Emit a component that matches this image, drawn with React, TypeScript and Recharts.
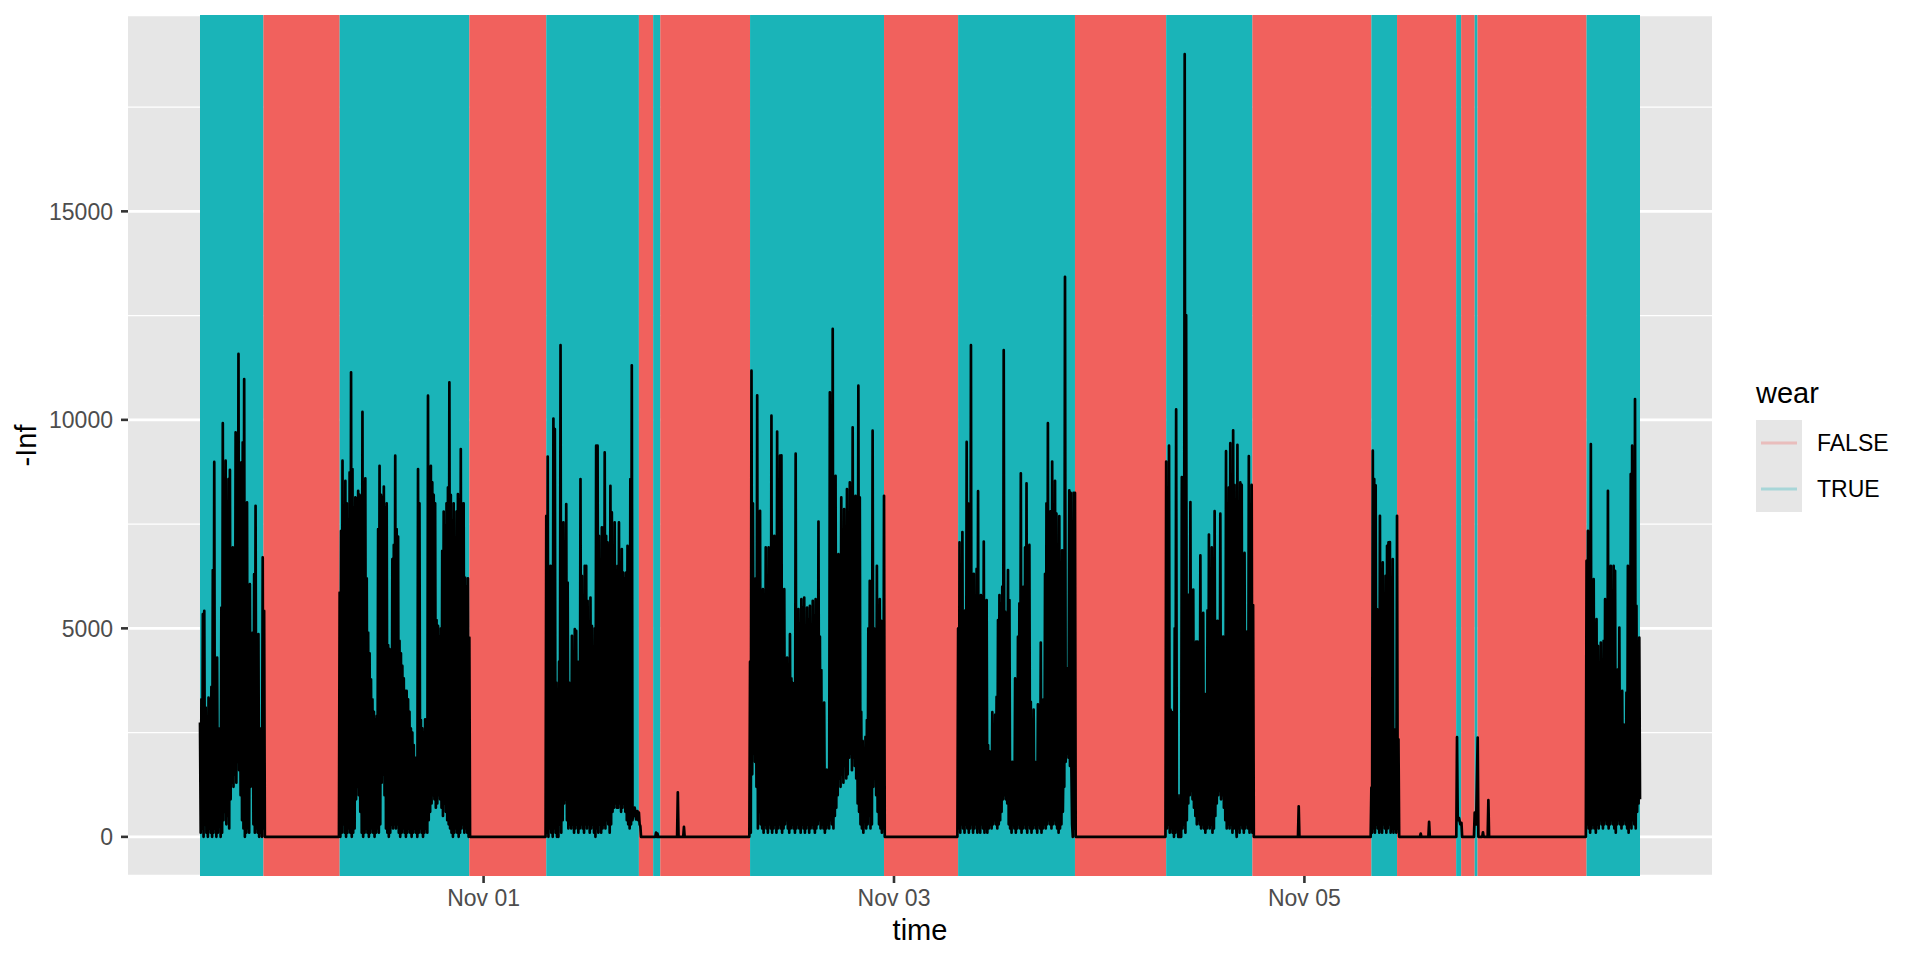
import React from 'react';
import { LineChart, Line, XAxis, YAxis, CartesianGrid, ReferenceArea, Label } from 'recharts';

// ---- wear periods (boundaries and state of each interval) ----
const wearBreaks = [
  '2020-10-30T14:50', '2020-10-30T22:15', '2020-10-31T07:10', '2020-10-31T22:20',
  '2020-11-01T07:20', '2020-11-01T18:10', '2020-11-01T19:50', '2020-11-01T20:40',
  '2020-11-02T07:10', '2020-11-02T22:50', '2020-11-03T07:30', '2020-11-03T21:10',
  '2020-11-04T07:50', '2020-11-04T17:55', '2020-11-05T07:50', '2020-11-05T10:50',
  '2020-11-05T17:45', '2020-11-05T18:20', '2020-11-05T19:55', '2020-11-05T20:15',
  '2020-11-06T09:00', '2020-11-06T15:15',
];
const wearFlags = [
  true, false, true, false, true, false, true, false, true, false, true,
  false, true, false, true, false, true, false, true, false, true,
];

// ---- activity series: 10-minute peaks, each followed by the trough 5 minutes later ----
const block1Start = '2020-10-30T14:50';
const block1Peaks = [2740, 3300, 5340, 5420, 3100, 2800, 3340, 3300, 3600, 6400, 8990, 4260, 4300, 2600, 1800, 5500, 9920, 5540, 9020, 6000, 8580, 8800, 5800, 6940, 6000, 9700, 6200, 11580, 6000, 8980, 9460, 10980, 6000, 8020, 5200, 6060, 4800, 4900, 6300, 7940, 4500, 4860, 2600, 2540, 6700, 5420];
const block1Troughs = [100, 200, 0, 300, 100, 0, 200, 100, 0, 100, 200, 0, 100, 300, 0, 100, 400, 600, 300, 500, 200, 900, 1300, 1200, 1500, 1300, 1800, 1600, 1000, 400, 200, 0, 100, 200, 100, 1200, 1400, 300, 100, 200, 100, 0, 100, 0, 200, 0];

const block2Start = '2020-10-31T07:10';
const block2Peaks = [5860, 7340, 9020, 7580, 8540, 8000, 7600, 8740, 11140, 8820, 7900, 8140, 8100, 8300, 8200, 7400, 10190, 8500, 8600, 6200, 4900, 4400, 3780, 3300, 3000, 2800, 2900, 7380, 8900, 8200, 8140, 8400, 7900, 8000, 4600, 4500, 4300, 6660, 7000, 9140, 7380, 7200, 4700, 4400, 4100, 3800, 3500, 3500, 3300, 3000, 2600, 2500, 2200, 1900, 1700, 8820, 8000, 2800, 2600, 2500, 2820, 2600, 10580, 8860, 8900, 8500, 8200, 8000, 5200, 5060, 4800, 5000, 6860, 7800, 7460, 8000, 8380, 10900, 8200, 7580, 8000, 6420, 7800, 8220, 8100, 9300, 8000, 8000, 6220, 6000, 6200, 4780];
const block2Troughs = [0, 100, 300, 100, 0, 100, 200, 100, 0, 100, 200, 900, 1200, 1000, 600, 100, 0, 100, 200, 100, 0, 100, 200, 100, 0, 100, 200, 100, 300, 1300, 1500, 1000, 200, 100, 0, 100, 300, 200, 300, 200, 300, 100, 0, 100, 200, 100, 0, 100, 200, 100, 0, 100, 200, 100, 0, 100, 200, 100, 0, 100, 200, 100, 400, 600, 800, 1000, 900, 700, 800, 1000, 900, 700, 500, 800, 600, 400, 300, 200, 100, 0, 100, 200, 100, 0, 100, 200, 300, 100, 200, 100, 0, 0];

const block3Start = '2020-11-01T07:20';
const block3Peaks = [7700, 9120, 4500, 6500, 4000, 10030, 9780, 3700, 3000, 4200, 11790, 4400, 7540, 6260, 7980, 6100, 3700, 3500, 4820, 3900, 4980, 4940, 4200, 3780, 8580, 6260, 4500, 6500, 6500, 5660, 4800, 5740, 5060, 4500, 5000, 9380, 9380, 7220, 6000, 7420, 7420, 9220, 7220, 7060, 6200, 8420, 7780, 6400, 7540, 6340, 6500, 7540, 6200, 6900, 6340, 6200, 6340, 6980, 6400, 8580, 11310, 580, 700, 420, 620, 580, 260];
const block3Troughs = [100, 0, 200, 100, 0, 200, 100, 0, 0, 300, 100, 400, 800, 900, 400, 200, 300, 200, 300, 100, 200, 300, 100, 200, 300, 200, 100, 300, 200, 300, 100, 200, 300, 100, 0, 200, 100, 300, 100, 200, 300, 200, 400, 300, 100, 300, 600, 700, 800, 700, 700, 800, 600, 700, 800, 600, 400, 300, 200, 300, 400, 500, 600, 500, 400, 300, 0];

const block4Start = '2020-11-02T07:10';
const block4Peaks = [4200, 11180, 8000, 5400, 6200, 10590, 5200, 7820, 5600, 5940, 4800, 6940, 5100, 6940, 5000, 10100, 5600, 7220, 5400, 9720, 6000, 9140, 9150, 5200, 5940, 3800, 4300, 3200, 4860, 3800, 3690, 2600, 9190, 5300, 5460, 5100, 5700, 5500, 5740, 4900, 5500, 5200, 5540, 4700, 5660, 5300, 5700, 4400, 7560, 4800, 4000, 3100, 3220, 1400, 1610, 1500, 10660, 6000, 12180, 8000, 8660, 5500, 6780, 5800, 8140, 5500, 7860, 6000, 8340, 5600, 8500, 6500, 9820, 6000, 8180, 5000, 10820, 8140, 3000, 2300, 2000, 2400, 2800, 5000, 6140, 5000, 9740, 5000, 4530, 6500, 5400, 5700, 5180, 5000, 8180];
const block4Troughs = [100, 1500, 2000, 1800, 1200, 200, 600, 300, 200, 100, 300, 200, 100, 300, 200, 100, 200, 300, 100, 200, 300, 200, 100, 200, 300, 400, 200, 100, 200, 300, 200, 100, 200, 300, 200, 100, 300, 200, 100, 200, 300, 100, 200, 300, 200, 100, 200, 300, 400, 200, 300, 200, 100, 200, 300, 200, 400, 300, 200, 500, 700, 1000, 1400, 1200, 1500, 1300, 1700, 1400, 1500, 1900, 2000, 1600, 1900, 1700, 1400, 800, 600, 300, 200, 100, 400, 200, 300, 500, 200, 300, 1200, 1400, 1000, 600, 300, 200, 100, 200, 0];

const block5Start = '2020-11-03T07:30';
const block5Peaks = [5000, 7060, 4800, 7310, 5000, 5430, 9470, 8000, 4500, 11790, 5200, 6310, 5000, 6430, 8290, 5000, 5800, 4800, 7080, 4000, 5680, 2200, 2050, 1800, 2990, 2200, 2930, 3360, 5200, 5800, 5600, 6000, 11670, 5400, 5200, 6400, 5680, 1800, 1800, 1600, 3800, 1800, 4800, 5600, 8720, 5800, 6000, 6940, 8480, 5400, 7000, 3240, 1800, 3050, 1800, 1700, 3180, 2000, 4660, 1700, 3300, 6310, 8000, 9920, 5000, 7810, 9000, 5000, 8540, 7750, 4500, 7690, 2430, 6870, 2050, 13430, 4050, 3680, 8310, 8250, 300, 8250, 8250];
const block5Troughs = [200, 100, 300, 200, 100, 300, 200, 100, 200, 300, 100, 200, 300, 100, 200, 100, 300, 200, 100, 200, 100, 200, 300, 200, 300, 400, 300, 200, 300, 400, 600, 900, 1000, 900, 800, 300, 200, 100, 300, 200, 100, 200, 300, 200, 100, 200, 300, 200, 100, 300, 200, 100, 200, 300, 200, 100, 300, 200, 100, 200, 300, 200, 300, 400, 300, 200, 300, 400, 300, 200, 100, 200, 300, 600, 1200, 1800, 2000, 1900, 1700, 1600, 0, 200, 0];

const block6Start = '2020-11-04T07:50';
const block6Peaks = [9000, 3000, 9380, 3050, 2990, 1500, 5000, 10250, 1000, 200, 1000, 8630, 6000, 18770, 12510, 4000, 5810, 8030, 4200, 5930, 3800, 4680, 4680, 3500, 6750, 3600, 5370, 3430, 3000, 5430, 7250, 3800, 6940, 3500, 7810, 3900, 5180, 3600, 7750, 4000, 4800, 4400, 9250, 4500, 8380, 9440, 4600, 9750, 8440, 300, 9400, 4200, 8500, 8440, 3800, 6810, 3550, 4930, 9130, 5310, 8440, 5560];
const block6Troughs = [200, 300, 100, 200, 100, 0, 100, 200, 0, 0, 0, 200, 300, 100, 400, 800, 1000, 1100, 900, 700, 500, 300, 400, 300, 200, 300, 200, 100, 200, 300, 200, 300, 100, 200, 500, 800, 1000, 1100, 900, 1000, 700, 400, 200, 300, 200, 300, 100, 200, 300, 0, 200, 100, 300, 200, 100, 200, 300, 200, 100, 200, 100, 0];

const block7Start = '2020-11-05T07:50';
const block7Peaks = [1180, 9260, 8580, 8430, 5460, 5000, 7700, 2980, 6580, 3000, 6260, 6980, 7060, 7070, 2980, 6660, 2000, 2580, 7700, 2340];
const block7Troughs = [100, 200, 100, 300, 200, 100, 200, 100, 300, 200, 100, 200, 300, 100, 200, 100, 200, 100, 200, 0];

const block8Start = '2020-11-06T09:00';
const block8Peaks = [6620, 7340, 3500, 9420, 3000, 6180, 3200, 5220, 4580, 2800, 4660, 3000, 4700, 5700, 2600, 8300, 3200, 6500, 2800, 6500, 6380, 3000, 4020, 5020, 2700, 3500, 2700, 2600, 3460, 6500, 2800, 8700, 9380, 3400, 10500, 5540, 3000, 4780];
const block8Troughs = [300, 200, 100, 200, 300, 200, 100, 300, 200, 400, 300, 200, 300, 400, 300, 200, 300, 400, 300, 200, 100, 300, 400, 300, 200, 300, 400, 300, 200, 100, 300, 200, 400, 300, 200, 600, 800, 900];

// off-wrist readings (mostly zero, with a few small blips)
const restPoints: [string, number][] = [
  ['2020-10-31T07:05', 0],
  ['2020-11-01T07:15', 0],
  ['2020-11-01T20:05', 0], ['2020-11-01T20:10', 100], ['2020-11-01T20:15', 0], ['2020-11-01T20:20', 80], ['2020-11-01T20:25', 0],
  ['2020-11-01T22:38', 0], ['2020-11-01T22:43', 1070], ['2020-11-01T22:48', 0],
  ['2020-11-01T23:21', 0], ['2020-11-01T23:26', 240], ['2020-11-01T23:31', 0],
  ['2020-11-02T07:05', 0],
  ['2020-11-03T07:25', 0],
  ['2020-11-04T07:45', 0],
  ['2020-11-04T23:15', 0], ['2020-11-04T23:20', 733], ['2020-11-04T23:25', 0],
  ['2020-11-05T07:45', 0],
  ['2020-11-05T13:31', 0], ['2020-11-05T13:36', 80], ['2020-11-05T13:41', 0],
  ['2020-11-05T14:30', 0], ['2020-11-05T14:35', 360], ['2020-11-05T14:40', 0],
  ['2020-11-05T17:46', 0], ['2020-11-05T17:51', 2390], ['2020-11-05T17:56', 400], ['2020-11-05T18:05', 455], ['2020-11-05T18:14', 300], ['2020-11-05T18:22', 335], ['2020-11-05T18:27', 0],
  ['2020-11-05T19:50', 0], ['2020-11-05T19:55', 580], ['2020-11-05T20:05', 300], ['2020-11-05T20:16', 2380], ['2020-11-05T20:21', 0],
  ['2020-11-05T20:48', 0], ['2020-11-05T20:53', 110], ['2020-11-05T20:58', 0],
  ['2020-11-05T21:26', 0], ['2020-11-05T21:31', 880], ['2020-11-05T21:36', 0],
  ['2020-11-06T08:55', 0],
];

const xTickDates = ['2020-11-01T00:00', '2020-11-03T00:00', '2020-11-05T00:00'];
const yMajorTicks = [0, 5000, 10000, 15000];
const yMinorTicks = [2500, 7500, 12500, 17500];
const legendTitle = 'wear';

// ---- build ----
const MONTHS = ['Jan', 'Feb', 'Mar', 'Apr', 'May', 'Jun', 'Jul', 'Aug', 'Sep', 'Oct', 'Nov', 'Dec'];
const toMs = (s: string) => Date.parse(s + ':00Z');
const STEP = 10 * 60 * 1000;
const HALF = 5 * 60 * 1000;

const blocks: [string, number[], number[]][] = [
  [block1Start, block1Peaks, block1Troughs],
  [block2Start, block2Peaks, block2Troughs],
  [block3Start, block3Peaks, block3Troughs],
  [block4Start, block4Peaks, block4Troughs],
  [block5Start, block5Peaks, block5Troughs],
  [block6Start, block6Peaks, block6Troughs],
  [block7Start, block7Peaks, block7Troughs],
  [block8Start, block8Peaks, block8Troughs],
];

const points: { t: number; v: number }[] = [];
blocks.forEach(([start, peaks, troughs]) => {
  const t0 = toMs(start);
  peaks.forEach((p, i) => {
    points.push({ t: t0 + i * STEP, v: p });
    if (i < troughs.length) points.push({ t: t0 + i * STEP + HALF, v: troughs[i] });
  });
});
restPoints.forEach(([s, v]) => points.push({ t: toMs(s), v }));
points.sort((a, b) => a.t - b.t);

const tMin = points[0].t;
const tMax = points[points.length - 1].t;
const tPad = (tMax - tMin) * 0.05;
const vMax = Math.max(...points.map((p) => p.v));
const xDomain = [tMin - tPad, tMax + tPad];
const yDomain = [-0.05 * vMax, 1.05 * vMax];
const xTicks = xTickDates.map(toMs);

const wearAreas = wearFlags.map((f, i) => ({ x1: toMs(wearBreaks[i]), x2: toMs(wearBreaks[i + 1]), wear: f }));

const COLOR_TRUE = '#1AB4B8';
const COLOR_FALSE = '#F1615D';
const PANEL = '#E6E6E6';
const FONT = '"Liberation Sans", Arial, Helvetica, sans-serif';

const fmtDate = (ms: number) => {
  const d = new Date(ms);
  return `${MONTHS[d.getUTCMonth()]} ${String(d.getUTCDate()).padStart(2, '0')}`;
};

const legendItems = [false, true].filter((f) => wearFlags.includes(f));

const YTitle = (props: any) => {
  const vb = props.viewBox || { x: 0, y: 15, width: 128, height: 861 };
  const cx = vb.x + 36;
  const cy = vb.y + vb.height / 2;
  return (
    <text x={cx} y={cy} transform={`rotate(-90, ${cx}, ${cy})`} textAnchor="middle" fontSize={29} fill="#000" fontFamily={FONT}>
      -Inf
    </text>
  );
};

export default function App() {
  return (
    <div style={{ position: 'absolute', left: 0, top: 0, width: 1920, height: 960, background: '#fff', fontFamily: FONT }}>
      <LineChart width={1920} height={960} data={points} margin={{ top: 15, right: 208, bottom: 0, left: 0 }}>
        <CartesianGrid vertical={false} fill={PANEL} fillOpacity={1} stroke="#FFFFFF" strokeWidth={2.6} />
        <CartesianGrid vertical={false} horizontalValues={yMinorTicks} stroke="#FFFFFF" strokeWidth={1.3} />
        <XAxis
          dataKey="t"
          type="number"
          domain={xDomain}
          allowDataOverflow
          ticks={xTicks}
          interval={0}
          tickFormatter={fmtDate}
          height={84}
          tickSize={7}
          tickMargin={7}
          axisLine={false}
          tickLine={{ stroke: '#333333', strokeWidth: 2.6 }}
          tick={{ fill: '#4D4D4D', fontSize: 23, fontFamily: FONT }}
        >
          <Label value="time" position="insideBottom" offset={20} fill="#000000" fontSize={29} fontFamily={FONT} />
        </XAxis>
        <YAxis
          type="number"
          domain={yDomain}
          allowDataOverflow
          ticks={yMajorTicks}
          interval={0}
          width={128}
          tickSize={7}
          tickMargin={8}
          axisLine={false}
          tickLine={{ stroke: '#333333', strokeWidth: 2.6 }}
          tick={{ fill: '#4D4D4D', fontSize: 23, fontFamily: FONT }}
        >
          <Label content={YTitle} />
        </YAxis>
        {wearAreas.map((a, i) => (
          <ReferenceArea
            key={i}
            x1={a.x1}
            x2={a.x2}
            fill={a.wear ? COLOR_TRUE : COLOR_FALSE}
            fillOpacity={1}
            stroke="none"
            ifOverflow="visible"
          />
        ))}
        <Line
          type="linear"
          dataKey="v"
          stroke="#000000"
          strokeWidth={2.7}
          strokeLinejoin="round"
          dot={false}
          activeDot={false}
          isAnimationActive={false}
        />
      </LineChart>
      <svg width={1920} height={960} style={{ position: 'absolute', left: 0, top: 0, pointerEvents: 'none' }}>
        <text x={1756} y={403} fontSize={29} fill="#000" fontFamily={FONT}>{legendTitle}</text>
        <rect x={1756} y={420} width={46} height={46 * legendItems.length} fill={PANEL} />
        {legendItems.map((f, i) => (
          <g key={String(f)}>
            <line
              x1={1761}
              x2={1797}
              y1={443 + 46 * i}
              y2={443 + 46 * i}
              stroke={f ? COLOR_TRUE : COLOR_FALSE}
              strokeOpacity={0.3}
              strokeWidth={3}
            />
            <text x={1817} y={451 + 46 * i} fontSize={23} fill="#000" fontFamily={FONT}>
              {f ? 'TRUE' : 'FALSE'}
            </text>
          </g>
        ))}
      </svg>
    </div>
  );
}
